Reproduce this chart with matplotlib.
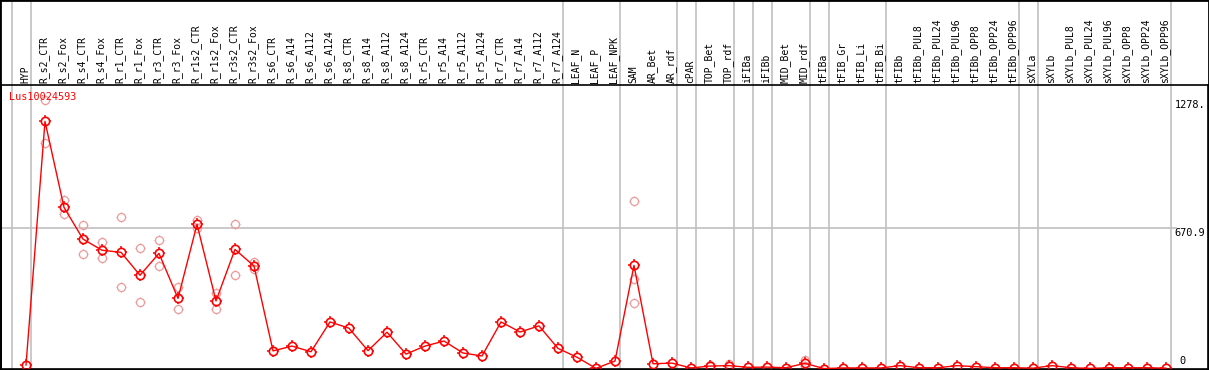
import numpy as np
import matplotlib.pyplot as plt
from matplotlib.path import Path
from matplotlib.transforms import blended_transform_factory

# sample names (one column each)
samples = ['HYP', 'R_s2_CTR', 'R_s2_Fox', 'R_s4_CTR', 'R_s4_Fox', 'R_r1_CTR', 'R_r1_Fox',
           'R_r3_CTR', 'R_r3_Fox', 'R_r1s2_CTR', 'R_r1s2_Fox', 'R_r3s2_CTR', 'R_r3s2_Fox',
           'R_s6_CTR', 'R_s6_A14', 'R_s6_A112', 'R_s6_A124', 'R_s8_CTR', 'R_s8_A14',
           'R_s8_A112', 'R_s8_A124', 'R_r5_CTR', 'R_r5_A14', 'R_r5_A112', 'R_r5_A124',
           'R_r7_CTR', 'R_r7_A14', 'R_r7_A112', 'R_r7_A124', 'LEAF_N', 'LEAF_P', 'LEAF_NPK',
           'SAM', 'AR_Bet', 'AR_rdf', 'cPAR', 'TOP_Bet', 'TOP_rdf', 'iFIBa', 'iFIBb',
           'MID_Bet', 'MID_rdf', 'tFIBa', 'tFIB_Gr', 'tFIB_Li', 'tFIB_Bi', 'tFIBb',
           'tFIBb_PUL8', 'tFIBb_PUL24', 'tFIBb_PUL96', 'tFIBb_OPP8', 'tFIBb_OPP24',
           'tFIBb_OPP96', 'sXYLa', 'sXYLb', 'sXYLb_PUL8', 'sXYLb_PUL24', 'sXYLb_PUL96',
           'sXYLb_OPP8', 'sXYLb_OPP24', 'sXYLb_OPP96']

# mean expression per sample
means = [19, 1178, 769, 618, 565, 555, 446, 550, 336, 688, 324, 569, 490,
         86, 109, 82, 224, 194, 87, 175, 71, 109, 133, 76, 62,
         224, 176, 205, 98, 56, 3, 38,
         493, 25, 28, 5, 14, 16, 8, 9, 6, 27, 2, 5, 5, 5, 16,
         6, 6, 16, 11, 6, 6, 4, 16, 6, 3, 6, 6, 6, 4]

# individual replicates (only where they stand apart from the mean)
replicates = {
    1: [1278, 1074],
    2: [804, 736],
    3: [684, 549],
    4: [603, 527],
    5: [723, 389],
    6: [574, 317],
    7: [612, 489],
    8: [389, 284],
    9: [709, 669],
    10: [363, 284],
    11: [688, 446],
    12: [507, 474],
    32: [798, 430, 312],
    36: [18],
    37: [22],
    41: [43, 14],
}

# group separators (after these column indices)
group_after = [-1, 0, 28, 31, 34, 35, 37, 38, 39, 41, 42, 45, 52, 53, 60]

gene = 'Lus10024593'
ymax = 1278
ymid = 670.9

# little ticks around each circle marker
ticks = Path([(0, 1), (0, 1.35), (0, -1), (0, -1.35), (1, 0), (1.35, 0), (-1, 0), (-1.35, 0)],
             [Path.MOVETO, Path.LINETO] * 4)

plt.rcParams['font.family'] = ['DejaVu Sans Mono']

fig = plt.figure(figsize=(12.09, 3.70), dpi=100)
ax = fig.add_axes([1 / 1209, 1 / 370, 1207 / 1209, 284 / 370])
ax.set_xlim(-25 / 19, 1182 / 19)
ax.set_ylim(0, 284 / 0.2102)
ax.set_xticks([])
ax.set_yticks([])
for s in ax.spines.values():
    s.set_color('black')
    s.set_linewidth(1.2)

x = np.arange(len(samples))
top_frac = 369 / 284

# vertical group lines through the header too
for g in group_after:
    ax.axvline(g + 0.25, ymin=0, ymax=top_frac, color='#c0c0c0', lw=1.2, clip_on=False, zorder=0)

# horizontal reference line
ax.plot([-25 / 19, (1176 - 26) / 19], [ymid, ymid], color='#c0c0c0', lw=1.2, zorder=0)

# header labels
trans = blended_transform_factory(ax.transData, ax.transAxes)
for i, name in enumerate(samples):
    ax.text(i - 1 / 19, 1.006, name, transform=trans, rotation=90, ha='center', va='bottom',
            fontsize=7, color='black')

# replicates
rep_color = '#ee9a9a'
for i, vals in replicates.items():
    ax.plot([i] * len(vals), vals, linestyle='none', marker='o', markersize=5.8,
            markerfacecolor='none', markeredgecolor=rep_color, markeredgewidth=0.9, zorder=2)
    ax.plot([i] * len(vals), vals, linestyle='none', marker=ticks, markersize=5.8 * 1.35,
            markeredgecolor=rep_color, markeredgewidth=0.9, zorder=2)

# mean line
ax.plot(x, means, color='red', lw=1.0, marker='o', markersize=6.0,
        markerfacecolor='none', markeredgecolor='red', markeredgewidth=1.2, zorder=3)
ax.plot(x, means, linestyle='none', marker=ticks, markersize=6.0 * 1.35,
        markeredgecolor='red', markeredgewidth=1.1, zorder=3)

# texts
ax.text(-0.9, (369 - 97) / 0.2102, gene, color='red', fontsize=7.3, ha='left', va='center')
ax.text(60.45, ymax, '1278.', fontsize=7.4, ha='left', va='top', color='black')
ax.text(60.45, ymid, '670.9', fontsize=7.4, ha='left', va='top', color='black')
ax.text(60.7, 14, '0', fontsize=7.4, ha='left', va='bottom', color='black')

# outer frame
fig.patches.append(plt.Rectangle((0, 0), 1, 1, transform=fig.transFigure, fill=False,
                                 edgecolor='black', lw=2))

fig.savefig('out.png', dpi=100)
